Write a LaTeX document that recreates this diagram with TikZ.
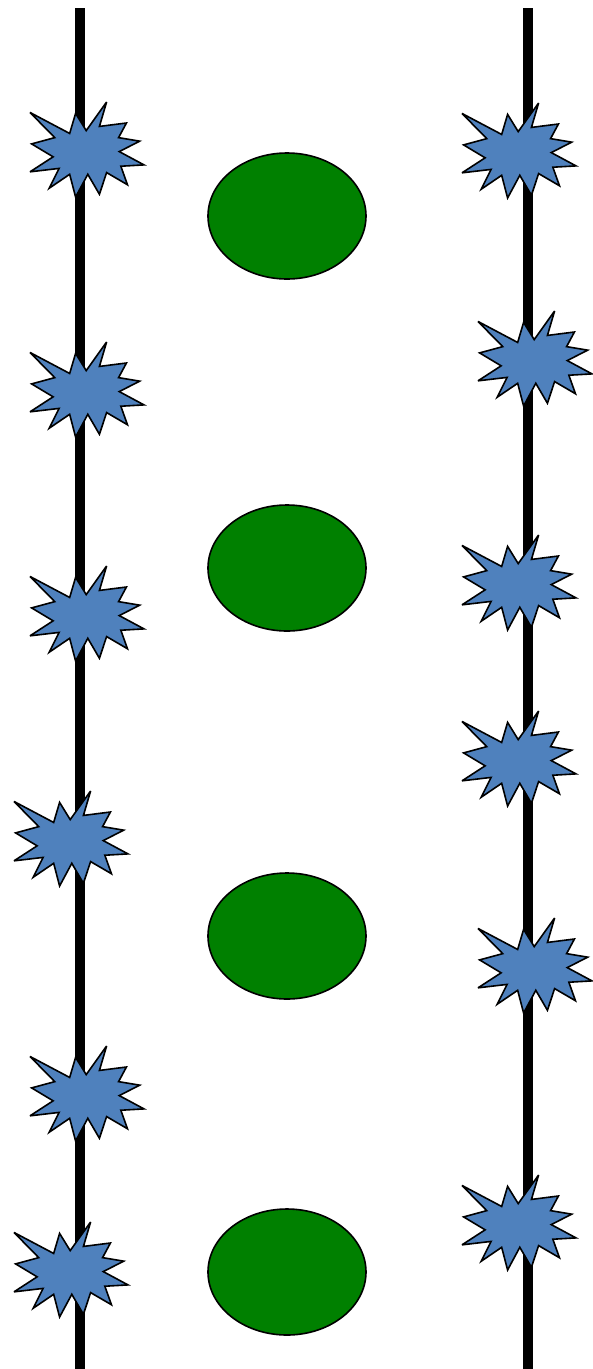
\documentclass[tikz,border=0pt]{standalone}
\usetikzlibrary{shapes.geometric}
\definecolor{starblue}{HTML}{4F81BD}
\definecolor{blobgreen}{HTML}{008000}
\tikzset{
  pole/.style={line width=10pt, black},
  blob/.style={ellipse, draw=black, line width=1.6pt, fill=blobgreen, minimum width=158pt, minimum height=126pt, inner sep=0pt},
  burst/.pic={
    \begin{scope}[x=114pt,y=-95pt]
    \draw[fill=starblue, draw=black, line width=1.6pt, line join=miter, miter limit=4]
      (0,0.11) -- (0.348,0.331) -- (0.40,0.12) -- (0.493,0.301) -- (0.672,0) -- (0.609,0.257)
      -- (0.846,0.221) -- (0.777,0.375) -- (0.962,0.412) -- (0.783,0.522) -- (1,0.662)
      -- (0.797,0.676) -- (0.855,0.871) -- (0.672,0.743) -- (0.609,0.971) -- (0.507,0.761)
      -- (0.40,1) -- (0.348,0.761) -- (0.168,0.908) -- (0.255,0.699) -- (0,0.735)
      -- (0.203,0.577) -- (0.014,0.441) -- (0.217,0.375) -- cycle;
    \end{scope}
  }
}
\begin{document}
\begin{tikzpicture}[x=1pt,y=-1pt]
\useasboundingbox (0,0) rectangle (593,1369);
% poles
\coordinate (lt) at (80,8);
\coordinate (lb) at (80,1369);
\coordinate (rt) at (528,8);
\coordinate (rb) at (528,1369);
\draw[pole] (lt) -- (lb);
\draw[pole] (rt) -- (rb);
% left bursts
\pic at (30,102) {burst};
\pic at (30,342) {burst};
\pic at (30,566) {burst};
\pic at (14,791) {burst};
\pic at (30,1046) {burst};
\pic at (14,1222) {burst};
% right bursts
\pic at (462,103) {burst};
\pic at (478,311) {burst};
\pic at (462,535) {burst};
\pic at (462,711) {burst};
\pic at (478,918) {burst};
\pic at (462,1175) {burst};
% ellipses
\node[blob] (e1) at (287,216) {};
\node[blob] (e2) at (287,568) {};
\node[blob] (e3) at (287,936) {};
\node[blob] (e4) at (287,1272) {};
\end{tikzpicture}
\end{document}
